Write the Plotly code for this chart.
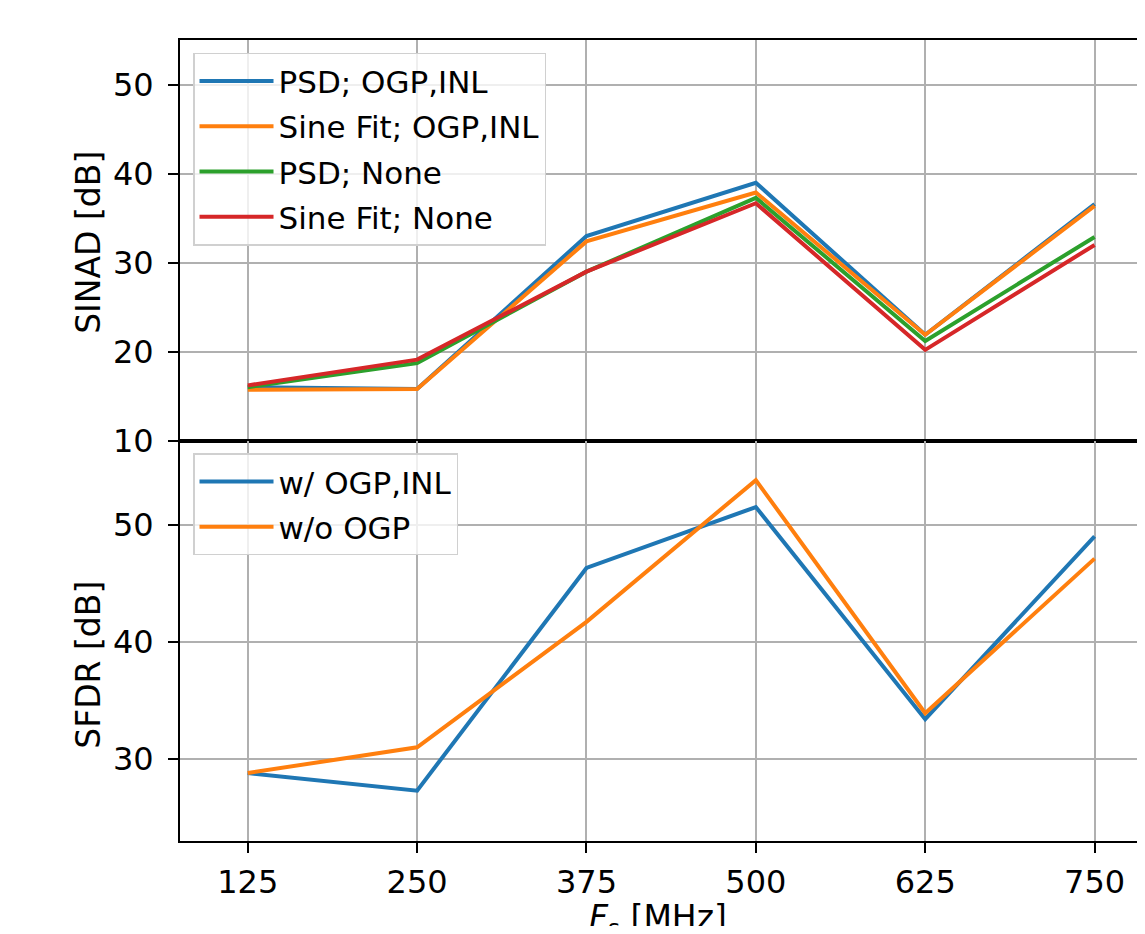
import plotly.graph_objects as go
from plotly.subplots import make_subplots

fs = [125, 250, 375, 500, 625, 750]

sinad_names = ["PSD; OGP,INL", "Sine Fit; OGP,INL", "PSD; None", "Sine Fit; None"]
sinad_psd_ogp = [16.0, 15.8, 33.0, 39.0, 21.9, 36.6]
sinad_sine_ogp = [15.7, 15.8, 32.4, 37.9, 21.9, 36.4]
sinad_psd_none = [16.0, 18.7, 29.0, 37.3, 21.2, 32.9]
sinad_sine_none = [16.2, 19.1, 29.0, 36.7, 20.2, 32.0]

sfdr_names = ["w/ OGP,INL", "w/o OGP"]
sfdr_with = [28.8, 27.3, 46.3, 51.5, 33.4, 49.0]
sfdr_without = [28.8, 31.0, 41.7, 53.8, 33.9, 47.1]

colors = ["#1f77b4", "#ff7f0e", "#2ca02c", "#d62728"]

fig = make_subplots(rows=2, cols=1, shared_xaxes=True, vertical_spacing=0)

for i, (name, vals) in enumerate(zip(sinad_names,
                                      [sinad_psd_ogp, sinad_sine_ogp, sinad_psd_none, sinad_sine_none])):
    fig.add_trace(go.Scatter(x=fs, y=vals, mode="lines", name=name,
                             line=dict(color=colors[i], width=4),
                             legend="legend", legendgroup="a%d" % i), row=1, col=1)

for i, (name, vals) in enumerate(zip(sfdr_names, [sfdr_with, sfdr_without])):
    fig.add_trace(go.Scatter(x=fs, y=vals, mode="lines", name=name,
                             line=dict(color=colors[i], width=4),
                             legend="legend2", legendgroup="b%d" % i), row=2, col=1)

font_family = "DejaVu Sans"
title_font = dict(size=33, family=font_family, color="black")
axis_common = dict(showline=True, linecolor="black", linewidth=2, automargin=False,
                   showgrid=True, gridcolor="#b0b0b0", gridwidth=1.5,
                   ticks="outside", ticklen=10, tickwidth=1.8, tickcolor="black",
                   tickfont=dict(size=32, family=font_family, color="black"),
                   zeroline=False)

fig.update_xaxes(**axis_common, mirror=True, range=[75, 781.3], tickvals=fs, ticklabelstandoff=2)
fig.update_xaxes(showticklabels=False, ticks="", row=1, col=1)

fig.update_yaxes(**axis_common, ticklabelstandoff=8)
fig.update_yaxes(range=[10, 55.06], tickvals=[10, 20, 30, 40, 50], row=1, col=1)
fig.update_yaxes(range=[23.0, 57.18], tickvals=[30, 40, 50], row=2, col=1)

# axis titles
fig.add_annotation(text="<i>F</i><sub>s</sub> [MHz]", xref="paper", yref="paper",
                   x=0.4995, y=-0.0687, xanchor="center", yanchor="top",
                   showarrow=False, font=title_font)
fig.add_annotation(text="SINAD [dB]", xref="paper", yref="paper", textangle=-90,
                   x=-0.0951, y=0.748, xanchor="center", yanchor="middle",
                   showarrow=False, font=title_font)
fig.add_annotation(text="SFDR [dB]", xref="paper", yref="paper", textangle=-90,
                   x=-0.0951, y=0.220, xanchor="center", yanchor="middle",
                   showarrow=False, font=title_font)

legend_common = dict(bgcolor="rgba(255,255,255,0.8)", bordercolor="#d0d0d0", borderwidth=1.5,
                     font=dict(size=31, family=font_family, color="black"),
                     xanchor="left", yanchor="top", tracegroupgap=2, itemwidth=74)

fig.update_layout(
    width=1129, height=918,
    margin=dict(l=172, r=0, t=32, b=85),
    plot_bgcolor="white", paper_bgcolor="white",
    legend=dict(**legend_common, x=0.0136, y=0.984),
    legend2=dict(**legend_common, x=0.0136, y=0.484),
)

fig.write_html("out.html")
